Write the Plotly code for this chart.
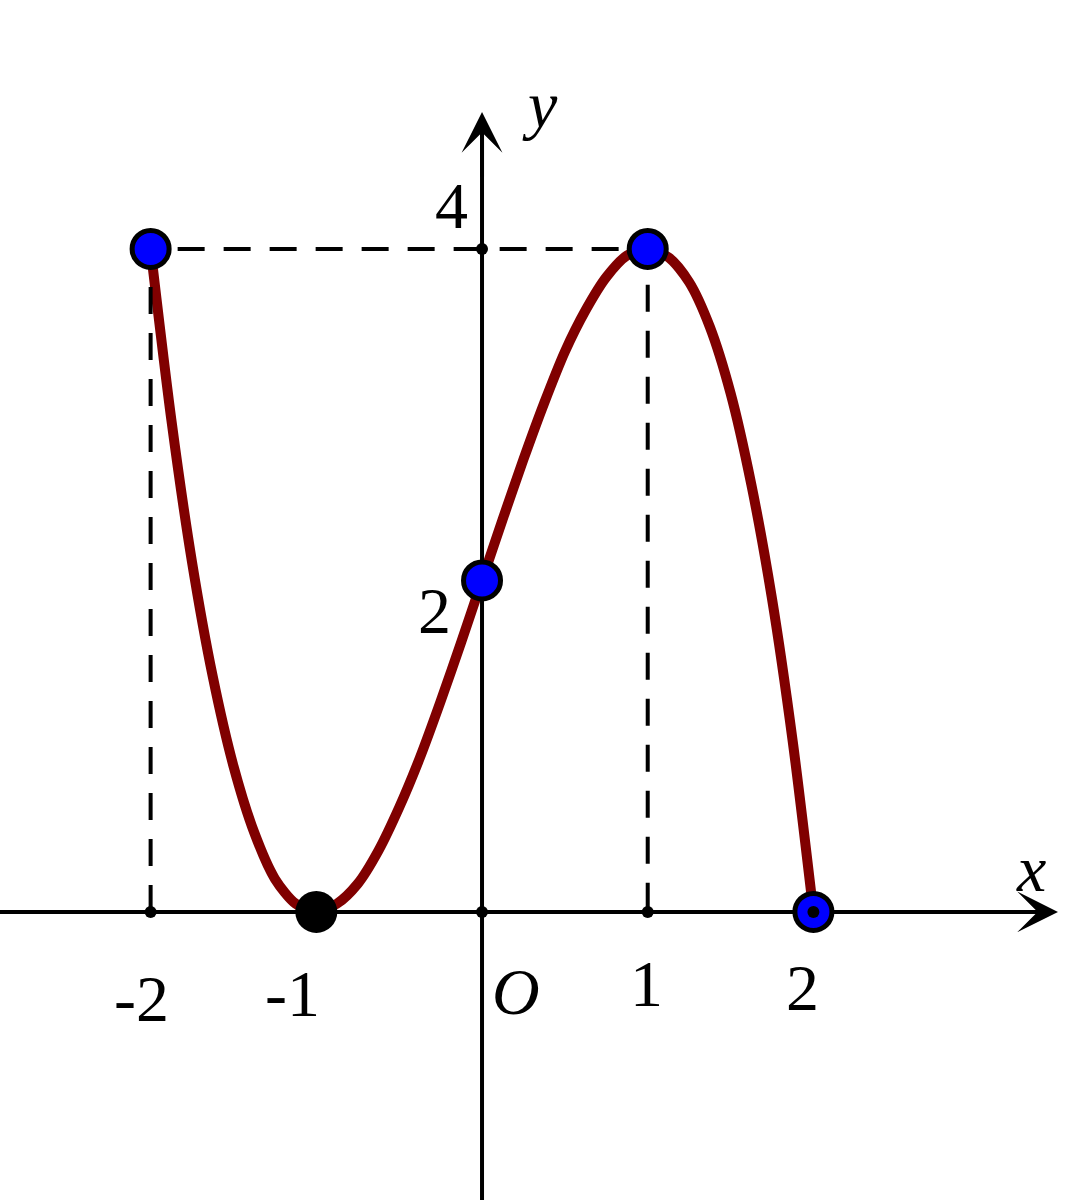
import plotly.graph_objects as go

# ---- data ----
curve_x = [-2.0, -1.875, -1.75, -1.625, -1.5, -1.375, -1.25, -1.125, -1.0, -0.875, -0.75, -0.625,
           -0.5, -0.375, -0.25, -0.125, 0.0, 0.125, 0.25, 0.375, 0.5, 0.625, 0.75, 0.875,
           1.0, 1.125, 1.25, 1.375, 1.5, 1.625, 1.75, 1.875, 2.0]
curve_y = [4.0, 2.97, 2.11, 1.42, 0.88, 0.48, 0.20, 0.05, 0.0, 0.05, 0.17, 0.37,
           0.63, 0.93, 1.27, 1.63, 2.0, 2.37, 2.73, 3.07, 3.38, 3.63, 3.83, 3.96,
           4.0, 3.95, 3.80, 3.53, 3.13, 2.58, 1.89, 1.03, 0.0]

blue_x = [-2, 0, 1, 2]
blue_y = [4, 2, 4, 0]
black_x = [-1]
black_y = [0]
tick_dot_x = [-2, 0, 1, 0]
tick_dot_y = [0, 0, 0, 4]

x_tick_vals = [-2, -1, 1, 2]
x_tick_text = ["-2", "-1", "1", "2"]
y_tick_vals = [4, 2]
y_tick_text = ["4", "2"]

# guide lines: (-2,0)->(-2,4)->(1,4)->(1,0)
guide_x = [-2, -2, 1, 1]
guide_y = [0, 4, 4, 0]

# ---- layout geometry ----
XR = [-2.909, 3.633]
YR = [-1.738, 5.502]
X_TIP = 3.476
Y_TIP = 4.827
FONT = "Liberation Serif"
FS = 66

fig = go.Figure()

# curve
fig.add_trace(go.Scatter(x=curve_x, y=curve_y, mode="lines",
                         line=dict(color="#800000", width=10, shape="spline", smoothing=0.8),
                         hoverinfo="skip"))
# dashed guides
fig.add_trace(go.Scatter(x=guide_x, y=guide_y, mode="lines",
                         line=dict(color="black", width=4, dash="27px,19px"),
                         hoverinfo="skip"))
# axes lines
fig.add_trace(go.Scatter(x=[XR[0], X_TIP - 0.05], y=[0, 0], mode="lines",
                         line=dict(color="black", width=4), hoverinfo="skip"))
fig.add_trace(go.Scatter(x=[0, 0], y=[YR[0], Y_TIP - 0.05], mode="lines",
                         line=dict(color="black", width=4), hoverinfo="skip"))
# tick dots
fig.add_trace(go.Scatter(x=tick_dot_x, y=tick_dot_y, mode="markers",
                         marker=dict(color="black", size=12), hoverinfo="skip"))
# black point
fig.add_trace(go.Scatter(x=black_x, y=black_y, mode="markers",
                         marker=dict(color="black", size=42), hoverinfo="skip"))
# blue points
fig.add_trace(go.Scatter(x=blue_x, y=blue_y, mode="markers",
                         marker=dict(color="#0000ff", size=37, line=dict(color="black", width=5)),
                         hoverinfo="skip"))
# inner dot of the open endpoint at x=2
fig.add_trace(go.Scatter(x=[blue_x[3]], y=[blue_y[3]], mode="markers",
                         marker=dict(color="black", size=12), hoverinfo="skip"))

ann = []
# arrowheads
ann.append(dict(x=X_TIP, y=0, ax=X_TIP - 0.4, ay=0, xref="x", yref="y", axref="x", ayref="y",
                showarrow=True, arrowhead=3, arrowsize=1.7, arrowwidth=4, arrowcolor="black",
                standoff=0, text=""))
ann.append(dict(x=0, y=Y_TIP, ax=0, ay=Y_TIP - 0.4, xref="x", yref="y", axref="x", ayref="y",
                showarrow=True, arrowhead=3, arrowsize=1.7, arrowwidth=4, arrowcolor="black",
                standoff=0, text=""))

def label(x, y, t, italic=False):
    ann.append(dict(x=x, y=y, xref="x", yref="y", text=(f"<i>{t}</i>" if italic else t),
                    showarrow=False, xanchor="center", yanchor="middle",
                    font=dict(family=FONT, size=FS, color="black")))

# axis names
label(3.313, 0.26, "x", italic=True)
label(0.350, 4.87, "y", italic=True)
label(0.205, -0.48, "O", italic=True)
# x tick labels
x_lab_off = {-2: (-0.058, -0.525), -1: (-0.141, -0.495), 1: (-0.010, -0.43), 2: (-0.063, -0.455)}
for v, t in zip(x_tick_vals, x_tick_text):
    dx, yy = x_lab_off[v]
    label(v + dx, yy, t)
# y tick labels
y_lab_off = {4: (-0.187, 0.26), 2: (-0.284, -0.18)}
for v, t in zip(y_tick_vals, y_tick_text):
    xx, dy = y_lab_off[v]
    label(xx, v + dy, t)

fig.update_layout(
    width=1084, height=1200,
    margin=dict(l=0, r=0, t=0, b=0),
    paper_bgcolor="white", plot_bgcolor="white",
    showlegend=False,
    xaxis=dict(range=XR, visible=False, fixedrange=True),
    yaxis=dict(range=YR, visible=False, fixedrange=True),
    annotations=ann,
)

fig.write_html("out.html", config={"displayModeBar": False},
               post_script="document.body.style.margin='0';")
